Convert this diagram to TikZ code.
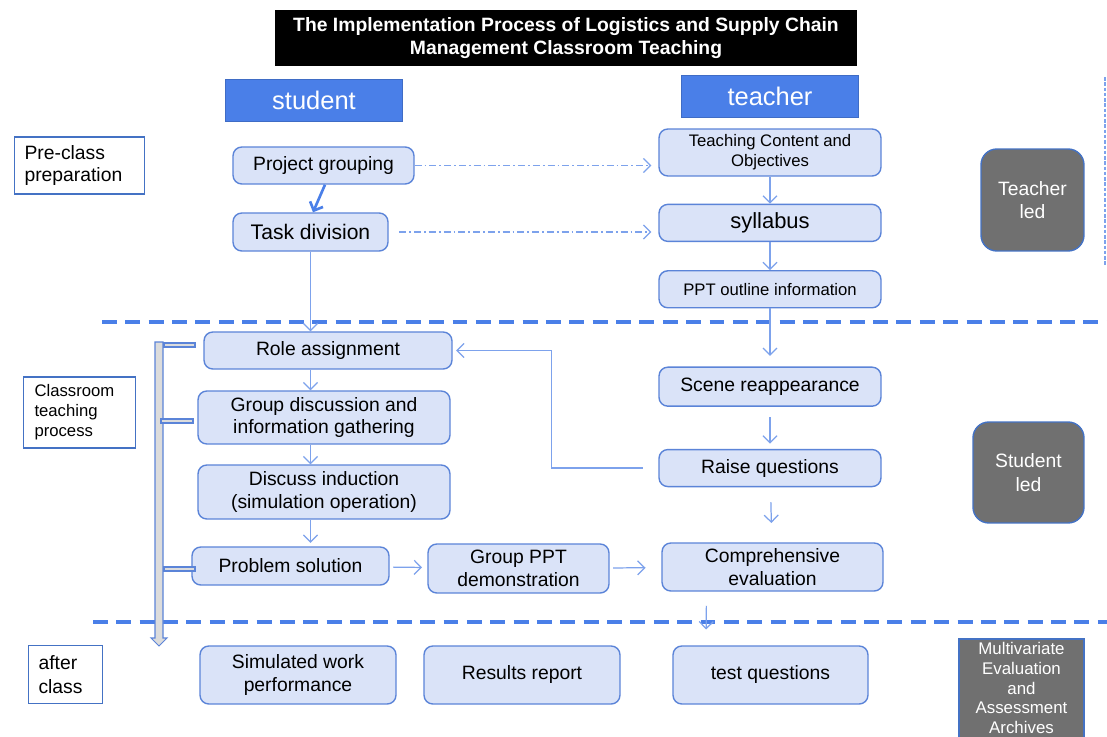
\documentclass[tikz,border=0pt]{standalone}
\usepackage{fontspec}
\setmainfont{Liberation Sans}
\usetikzlibrary{arrows.meta, positioning, calc}
\definecolor{headblue}{HTML}{4A7FE8}
\definecolor{boxfill}{HTML}{DAE3F8}
\definecolor{boxline}{HTML}{5B84D8}
\definecolor{linkblue}{HTML}{7DA2EC}
\definecolor{frameblue}{HTML}{4472C4}
\definecolor{leadgray}{HTML}{707070}
\definecolor{barfill}{HTML}{DCDCDC}

\begin{document}
\begin{tikzpicture}[
  x=0.02cm, y=-0.02cm,
  stepbox/.style={rectangle, rounded corners=5pt, draw=boxline, fill=boxfill, line width=0.8pt, align=center, inner sep=1pt, font=\fontsize{11}{13}\selectfont},
  headbox/.style={rectangle, fill=headblue, draw=headblue!85!black, line width=0.4pt, text=white, minimum width=3.54cm, minimum height=0.84cm, font=\fontsize{14.5}{16}\selectfont},
  phasebox/.style={rectangle, draw=frameblue, fill=white, line width=0.6pt, anchor=west, align=left, inner xsep=0.2cm},
  leadbox/.style={rectangle, rounded corners=9pt, draw=frameblue, fill=leadgray, line width=0.8pt, text=white, align=center, font=\fontsize{11}{13.5}\selectfont},
  arrow/.style={-{Straight Barb[length=4pt, width=8pt]}, color=linkblue, line width=0.7pt},
  bigarrow/.style={-{Straight Barb[length=4pt, width=8pt]}, color=headblue, line width=1.5pt},
  dotarrow/.style={arrow, dash pattern=on 4pt off 1.7pt on 1pt off 1.7pt},
  sepline/.style={color=headblue, line width=1.8pt, dash pattern=on 8.5pt off 4.8pt},
  barpart/.style={draw=boxline, fill=barfill, line width=0.6pt}
]
  \path[use as bounding box, fill=white] (0,0) rectangle (1107,737);

  % Title and column headers
  \node[fill=black, text=white, minimum width=11.64cm, minimum height=1.12cm, align=center, font=\fontsize{11}{13}\selectfont\bfseries] (title) at (566,38) {The Implementation Process of Logistics and Supply Chain\\Management Classroom Teaching};
  \node[headbox] (student) at (314,100) {student};
  \node[headbox] (teacher) at (770,96.5) {teacher};

  % Phase labels
  \node[phasebox, text width=2.2cm, minimum height=1.14cm, font=\fontsize{11}{12.5}\selectfont] (pre) at (14,165.5) {Pre-class\\preparation};
  \node[phasebox, text width=1.8cm, inner xsep=0.22cm, minimum height=1.42cm, font=\fontsize{9.5}{11.4}\selectfont] (inclass) at (23,412.5) {Classroom\\teaching\\process};
  \node[phasebox, text width=1.08cm, minimum height=1.16cm, font=\fontsize{11}{13.5}\selectfont] (after) at (28,674.5) {after\\class};

  % Phase separators
  \draw[sepline] (102,322) -- (1107,322);
  \draw[sepline] (93,622) -- (1107,622);
  \draw[linkblue, line width=0.6pt, dash pattern=on 2pt off 1pt] (1105,77) -- (1105,265);

  % Student side
  \node[stepbox, minimum width=3.62cm, minimum height=0.74cm] (pgroup) at (323.5,165.5) {Project grouping};
  \node[stepbox, minimum width=3.1cm, minimum height=0.76cm, font=\fontsize{12}{14}\selectfont] (task) at (310.5,232) {Task division};
  \node[stepbox, minimum width=4.96cm, minimum height=0.74cm] (role) at (328,350.5) {Role assignment};
  \node[stepbox, minimum width=5.04cm, minimum height=1.06cm] (gdisc) at (324,417.5) {Group discussion and\\information gathering};
  \node[stepbox, minimum width=5.04cm, minimum height=1.08cm] (dind) at (324,492) {Discuss induction\\(simulation operation)};
  \node[stepbox, minimum width=3.94cm, minimum height=0.76cm] (psol) at (290.5,566) {Problem solution};
  \node[stepbox, minimum width=3.62cm, minimum height=0.98cm] (gppt) at (518.5,568.5) {Group PPT\\demonstration};
  \node[stepbox, minimum width=4.42cm, minimum height=0.96cm] (comp) at (772.5,567) {Comprehensive\\evaluation};

  % Teacher side
  \node[stepbox, minimum width=4.44cm, minimum height=0.94cm, font=\fontsize{9.5}{11.4}\selectfont] (tc) at (770,152.5) {Teaching Content and\\Objectives};
  \node[stepbox, minimum width=4.44cm, minimum height=0.74cm, font=\fontsize{12.5}{14}\selectfont, below=0.54cm of tc] (syl) {syllabus};
  \node[stepbox, minimum width=4.44cm, minimum height=0.74cm, font=\fontsize{9.5}{11.4}\selectfont, below=0.56cm of syl] (ppt) {PPT outline information};
  \node[stepbox, minimum width=4.44cm, minimum height=0.78cm, below=1.16cm of ppt] (scene) {Scene reappearance};
  \node[stepbox, minimum width=4.44cm, minimum height=0.74cm, below=0.84cm of scene] (raise) {Raise questions};

  % After class
  \node[stepbox, minimum width=3.92cm, minimum height=1.16cm] (simw) at (298,675) {Simulated work\\performance};
  \node[stepbox, minimum width=3.92cm, minimum height=1.16cm] (resr) at (522,675) {Results report};
  \node[stepbox, minimum width=3.9cm, minimum height=1.16cm] (testq) at (770.5,675) {test questions};

  % Who leads each phase
  \node[leadbox, minimum width=2.06cm, minimum height=2.04cm] (tled) at (1032.5,200) {Teacher\\led};
  \node[leadbox, minimum width=2.22cm, minimum height=2.02cm] (sled) at (1028.5,472.5) {Student\\led};
  \node[leadbox, rounded corners=0pt, minimum width=2.5cm, minimum height=2.42cm] (arch) at (1021.5,699.5) {};
  \node[text=white, align=center, font=\fontsize{9.6}{11.2}\selectfont] (archtext) at (1021.5,688) {Multivariate\\Evaluation\\and\\Assessment\\Archives};

  % Time bar on the left
  \draw[barpart] (155,342) -- (163,342) -- (163,638) -- (167,638) -- (159,646) -- (151,638) -- (155,638) -- cycle;
  \draw[barpart] (164,343) rectangle (195,347);
  \draw[barpart] (161,419) rectangle (193,423);
  \draw[barpart] (164,567) rectangle (195,571);

  % Pre-class links
  \draw[bigarrow] ([xshift=0.03cm]pgroup.south) -- ([xshift=0.05cm]task.north);
  \draw[dotarrow, shorten >=4pt] (pgroup.east) -- (pgroup.east -| tc.west);
  \draw[dotarrow, shorten <=6pt, shorten >=4pt] (task.east) -- (task.east -| syl.west);
  \draw[arrow] (tc) -- (syl);
  \draw[arrow] (syl) -- (ppt);

  % Classroom links
  \draw[arrow] (task.south) -- (task.south |- role.north);
  \draw[arrow] (role.south -| task.south) -- (gdisc.north -| task.south);
  \draw[arrow] (gdisc.south -| task.south) -- (dind.north -| task.south);
  \draw[arrow, shorten >=2pt] (dind.south -| task.south) -- (psol.north -| task.south);
  \draw[arrow, shorten <=2pt, shorten >=3pt] (psol) -- (gppt);
  \draw[arrow, shorten <=2pt, shorten >=9pt] (gppt) -- (comp);
  \draw[arrow, shorten >=6pt] (ppt) -- (scene);
  \draw[arrow, shorten <=6pt, shorten >=3pt] (scene) -- (raise);
  \draw[arrow, shorten <=9pt, shorten >=2pt] (raise.west) -- ++(-107,0) |- (role.east);
  \draw[arrow, shorten <=8.5pt, shorten >=11pt] (raise) -- (comp);

  % After-class link
  \draw[arrow, shorten <=8pt, shorten >=9pt] ([xshift=-1.32cm]comp.south) -- ([xshift=-1.29cm]testq.north);
\end{tikzpicture}
\end{document}
